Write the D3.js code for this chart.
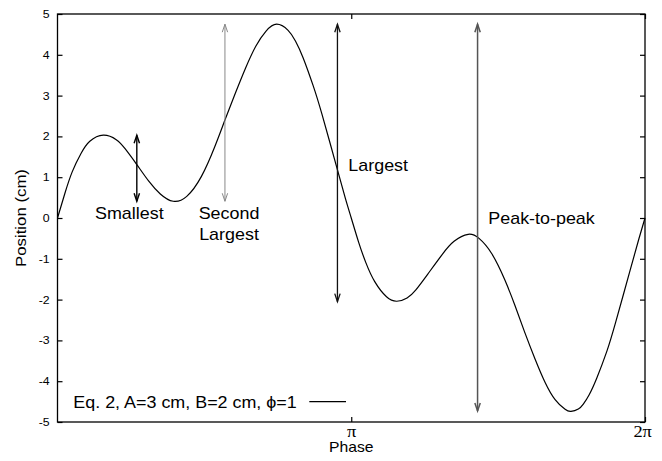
<!DOCTYPE html>
<html>
<head>
<meta charset="utf-8">
<script src="https://cdn.jsdelivr.net/npm/d3@7"></script>
<style>
  html, body { margin: 0; padding: 0; background: #fff; }
  svg { display: block; }
</style>
</head>
<body>
<script>
// ---- data (phase in units of pi, position in cm) ----
const phase = [0, 0.025, 0.05, 0.08, 0.11, 0.156, 0.20, 0.23, 0.27, 0.31, 0.35, 0.394, 0.44, 0.49, 0.535, 0.57, 0.605, 0.64, 0.675, 0.71, 0.746, 0.785, 0.81, 0.836, 0.87, 0.90, 0.95, 0.98, 1.0,
               1.025, 1.05, 1.08, 1.12, 1.155, 1.19, 1.22, 1.26, 1.31, 1.35, 1.398, 1.435, 1.478, 1.523, 1.557, 1.59, 1.626, 1.66, 1.694, 1.728, 1.748, 1.773, 1.79, 1.81, 1.836, 1.87, 1.90, 1.949, 1.98, 2.0];
const position = [0, 0.60, 1.13, 1.58, 1.88, 2.03, 1.92, 1.70, 1.31, 0.91, 0.59, 0.41, 0.53, 1.02, 1.74, 2.40, 3.05, 3.67, 4.21, 4.58, 4.75, 4.60, 4.34, 3.93, 3.25, 2.55, 1.26, 0.48, 0,
                  -0.59, -1.10, -1.56, -1.93, -2.04, -1.96, -1.76, -1.38, -0.89, -0.57, -0.40, -0.50, -0.87, -1.52, -2.14, -2.79, -3.46, -4.03, -4.45, -4.69, -4.74, -4.68, -4.56, -4.33, -3.92, -3.27, -2.56, -1.29, -0.49, 0];

const arrowPhase = [0.27, 0.57, 0.953, 1.43];
const arrowLow   = [0.41, 0.41, -2.05, -4.73];
const arrowHigh  = [2.03, 4.75, 4.75, 4.75];
const arrowNames = ["Smallest", "Second Largest", "Largest", "Peak-to-peak"];

const yTicks = [-5, -4, -3, -2, -1, 0, 1, 2, 3, 4, 5];
const xTicks = [1, 2];
const xTickLabels = ["\u03c0", "2\u03c0"];
const legendLabel = "Eq. 2, A=3 cm, B=2 cm, \u03d5=1";
const xTitle = "Phase";
const yTitle = "Position (cm)";

// ---- layout ----
const W = 662, H = 461;
const L = 57.5, R = 645, T = 14, B = 422;
const SANS = "'Liberation Sans', Arial, Helvetica, sans-serif";
const SERIF = "'Liberation Serif', 'Times New Roman', serif";
const STRETCH = 1.12;

const svg = d3.select("body").append("svg").attr("width", W).attr("height", H);

const x = d3.scaleLinear().domain([0, 2]).range([L, R]);
const y = d3.scaleLinear().domain([-5, 5]).range([B, T]);

// axes with inward ticks
const gl = svg.append("g").attr("transform", `translate(${L},0)`)
  .call(d3.axisLeft(y).tickValues(yTicks).tickSize(-5).tickPadding(7).tickFormat(d => String(d)));
const gr = svg.append("g").attr("transform", `translate(${R},0)`)
  .call(d3.axisRight(y).tickValues(yTicks).tickSize(-5).tickFormat(""));
const gb = svg.append("g").attr("transform", `translate(0,${B})`)
  .call(d3.axisBottom(x).tickValues(xTicks).tickSize(-5).tickPadding(4).tickFormat((d, i) => xTickLabels[i]));
const gt = svg.append("g").attr("transform", `translate(0,${T})`)
  .call(d3.axisTop(x).tickValues(xTicks).tickSize(-5).tickFormat(""));

[gl, gr, gb, gt].forEach(g => {
  g.select(".domain").remove();
  g.selectAll(".tick line").attr("stroke", "#000").attr("stroke-width", 1.2);
});
gl.selectAll(".tick text").attr("font-family", SANS).attr("font-size", 11).attr("fill", "#000")
  .attr("transform", `scale(${STRETCH},1)`);
gb.selectAll(".tick text").attr("font-family", SERIF).attr("font-size", 16).attr("fill", "#000")
  .attr("transform", `scale(1.15,1)`);
gb.selectAll(".tick").filter(d => d === 2).select("text").attr("x", -2.5);

// frame
svg.append("rect").attr("x", L).attr("y", T).attr("width", R - L).attr("height", B - T)
  .attr("fill", "none").attr("stroke", "#000").attr("stroke-width", 1.3);

// curve
const pts = phase.map((p, i) => [p, position[i]]);
const line = d3.line().x(d => x(d[0])).y(d => y(d[1])).curve(d3.curveNatural);
svg.append("path").datum(pts).attr("d", line)
  .attr("fill", "none").attr("stroke", "#000").attr("stroke-width", 1.2);

// arrows
const arrowColor = ["#000", "#888", "#111", "#555"];
const arrowWidth = [1.4, 1.0, 1.3, 1.5];
arrowPhase.forEach((p, i) => {
  const ax = x(p), y1 = y(arrowHigh[i]), y2 = y(arrowLow[i]);
  const g = svg.append("g").attr("stroke", arrowColor[i]).attr("stroke-width", arrowWidth[i]).attr("fill", "none");
  g.append("line").attr("x1", ax).attr("x2", ax).attr("y1", y1).attr("y2", y2);
  g.append("path").attr("d", `M${ax - 2.7},${y1 + 8} L${ax},${y1} L${ax + 2.7},${y1 + 8}`);
  g.append("path").attr("d", `M${ax - 2.7},${y2 - 8} L${ax},${y2} L${ax + 2.7},${y2 - 8}`);
});

// text helper
function stext(tx, ty, str, size, anchor, rot, family) {
  const tr = `translate(${tx},${ty})` + (rot ? ` rotate(${rot})` : "") + ` scale(${STRETCH},1)`;
  return svg.append("text").attr("transform", tr).attr("text-anchor", anchor || "start")
    .attr("font-family", family || SANS).attr("font-size", size).attr("fill", "#000").text(str);
}

// annotation labels
stext(95, 219, arrowNames[0], 16, "start");
stext(229, 219, "Second", 16, "middle");
stext(229, 240, "Largest", 16, "middle");
stext(348.3, 170.7, arrowNames[2], 16, "start");
stext(488.3, 224, arrowNames[3], 16, "start");

// legend
stext(73.3, 407.7, legendLabel, 16, "start");
svg.append("line").attr("x1", 309.3).attr("x2", 346).attr("y1", 401.7).attr("y2", 401.7)
  .attr("stroke", "#000").attr("stroke-width", 1.2);

// axis titles
stext((L + R) / 2, 452, xTitle, 14, "middle");
stext(25.5, 218, yTitle, 15, "middle", -90);
</script>
</body>
</html>
